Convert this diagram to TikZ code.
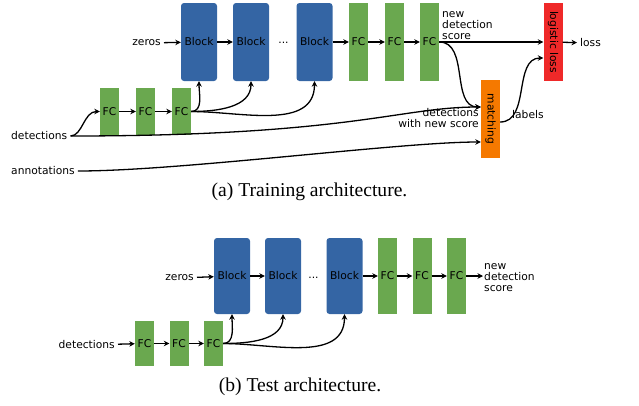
\documentclass[tikz,border=0pt]{standalone}
\usepackage{fontspec}
\setmainfont{DejaVu Sans}
\newfontfamily\capfont{Liberation Serif}
\usetikzlibrary{arrows.meta}

\definecolor{blockblue}{HTML}{3465A4}
\definecolor{fcgreen}{HTML}{6AA84F}
\definecolor{lossred}{HTML}{EF2929}
\definecolor{matchorange}{HTML}{F57900}

\tikzset{
  every node/.style={font=\fontsize{10.7}{11}\selectfont},
  block/.style={fill=blockblue, rounded corners=3pt, minimum width=36pt, minimum height=78pt, inner sep=0pt},
  fc/.style={fill=fcgreen, minimum width=19pt, minimum height=78pt, inner sep=0pt},
  fclow/.style={fc, minimum height=47pt},
  lossbox/.style={fill=lossred, minimum width=19pt, minimum height=78pt, inner sep=0pt},
  matchbox/.style={fill=matchorange, minimum width=19pt, minimum height=78pt, inner sep=0pt},
  lbl/.style={inner sep=3pt},
  caption/.style={font=\fontsize{19.6}{22}\selectfont\capfont},
  flow/.style={line width=1.3pt, -{Stealth[length=5.5pt,width=5.5pt]}}
}

\begin{document}
\begin{tikzpicture}[x=1pt,y=1pt]
    \useasboundingbox (0,0) rectangle (639,-405);

    % training architecture
    \node[lbl, anchor=east] (zerosA) at (164,-43) {zeros};
    \node[block] (blkA1) at (199,-42) {Block};
    \node[block] (blkA2) at (251,-42) {Block};
    \node (dotsA) at (283.5,-43) {...};
    \node[block] (blkA3) at (314.5,-42) {Block};
    \node[fc] (fcA1) at (358.5,-42) {FC};
    \node[fc] (fcA2) at (394.5,-42) {FC};
    \node[fc] (fcA3) at (429.5,-42) {FC};
    \node[anchor=west, align=left, inner sep=1pt] (scoreA) at (441,-26) {new\\detection\\score};
    \node[lossbox] (logloss) at (553,-42) {\rotatebox{-90}{logistic loss}};
    \node[lbl, anchor=west] (loss) at (577,-43) {loss};
    \node[matchbox] (match) at (490.5,-119) {\rotatebox{-90}{matching}};
    \node[anchor=north east, align=right, inner sep=1pt] (detnew) at (480,-107) {detections\\with new score};
    \node[lbl, anchor=west] (labels) at (509,-115) {labels};

    \node[lbl, anchor=west] (detA) at (8,-136) {detections};
    \node[lbl, anchor=west] (annot) at (8,-171) {annotations};
    \node[fclow] (lfcA1) at (109.5,-111.5) {FC};
    \node[fclow] (lfcA2) at (145.5,-111.5) {FC};
    \node[fclow] (lfcA3) at (181.5,-111.5) {FC};

    \draw[flow] (zerosA) -- (blkA1);
    \draw[flow] (blkA1) -- (blkA2);
    \draw[flow] (blkA3) -- (fcA1);
    \draw[flow] (fcA1) -- (fcA2);
    \draw[flow] (fcA2) -- (fcA3);
    \draw[flow] (fcA3.east) -- (logloss.west);
    \draw[flow] (logloss) -- (loss);
    \draw[flow] (fcA3.east) to[out=0, in=180] ([yshift=12pt]match.west);
    \draw[flow] (detA.east) .. controls (350,-136) and (400,-107) .. ([yshift=12pt]match.west);
    \draw[flow] (annot.east) .. controls (180,-171) and (400,-142) .. ([yshift=-23pt]match.west);
    \draw[flow] ([yshift=-3pt]match.east) to[out=0, in=180] ([yshift=-16pt]logloss.west);
    \draw[flow] (detA.east) .. controls +(12,0) and +(-16,0) .. (lfcA1.west);
    \draw[flow] (lfcA1) -- (lfcA2);
    \draw[flow] (lfcA2) -- (lfcA3);
    \draw[flow] (lfcA3.east) to[out=0, in=-90] (blkA1.south);
    \draw[flow] (lfcA3.east) to[out=0, in=-90] (blkA2.south);
    \draw[flow] (lfcA3.east) to[out=0, in=-90] (blkA3.south);

    \node[caption] (capA) at (309.5,-192) {(a) Training architecture.};

    % test architecture
    \node[lbl, anchor=east] (zerosB) at (197,-278) {zeros};
    \node[block, minimum height=76pt] (blkB1) at (232,-276) {Block};
    \node[block, minimum height=76pt] (blkB2) at (283,-276) {Block};
    \node (dotsB) at (313.5,-278) {...};
    \node[block, minimum height=76pt] (blkB3) at (344.5,-276) {Block};
    \node[fc, minimum height=76pt] (fcB1) at (387.5,-276) {FC};
    \node[fc, minimum height=76pt] (fcB2) at (422,-276) {FC};
    \node[fc, minimum height=76pt] (fcB3) at (456.5,-276) {FC};
    \node[anchor=west, align=left, inner sep=1pt] (scoreB) at (483,-278) {new\\detection\\score};

    \node[lbl, anchor=east] (detB) at (118,-345) {detections};
    \node[fclow, minimum height=45pt] (lfcB1) at (144.5,-343.5) {FC};
    \node[fclow, minimum height=45pt] (lfcB2) at (179,-343.5) {FC};
    \node[fclow, minimum height=45pt] (lfcB3) at (213.5,-343.5) {FC};

    \draw[flow] (zerosB) -- (blkB1);
    \draw[flow] (blkB1) -- (blkB2);
    \draw[flow] (blkB3) -- (fcB1);
    \draw[flow] (fcB1) -- (fcB2);
    \draw[flow] (fcB2) -- (fcB3);
    \draw[flow] (fcB3.east) -- (scoreB.west |- fcB3.east);
    \draw[flow] (detB) -- (lfcB1);
    \draw[flow] (lfcB1) -- (lfcB2);
    \draw[flow] (lfcB2) -- (lfcB3);
    \draw[flow] (lfcB3.east) to[out=0, in=-90] (blkB1.south);
    \draw[flow] (lfcB3.east) to[out=0, in=-90] (blkB2.south);
    \draw[flow] (lfcB3.east) to[out=0, in=-90] (blkB3.south);

    \node[caption] (capB) at (300,-387) {(b) Test architecture.};
\end{tikzpicture}
\end{document}
